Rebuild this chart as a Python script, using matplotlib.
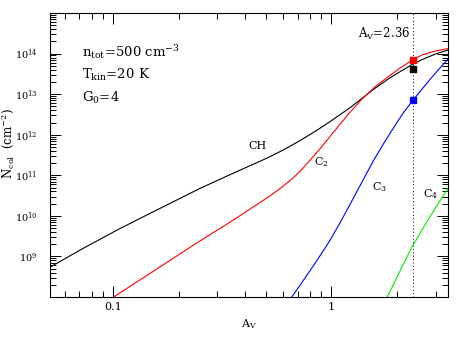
import numpy as np
import matplotlib
matplotlib.use("Agg")
import matplotlib.pyplot as plt
from matplotlib.ticker import LogLocator, NullFormatter, FixedLocator, FixedFormatter

plt.rcParams['font.family'] = ['DejaVu Serif']
plt.rcParams['mathtext.fontset'] = 'dejavuserif'

# CH column density (A_V, log10 N)
ch_av = [0.0513, 0.0729, 0.1036, 0.1473, 0.2496, 0.3548, 0.5047, 0.6012, 0.7172, 0.8555,
         0.9843, 1.216, 1.554, 1.854, 2.060, 2.331, 2.599, 2.981, 3.42]
ch_log = [8.735, 9.201, 9.644, 10.061, 10.676, 11.052, 11.420, 11.624, 11.855, 12.106,
          12.322, 12.666, 13.113, 13.405, 13.553, 13.725, 13.850, 13.985, 14.088]
# C2
c2_av = [0.1, 0.1473, 0.2496, 0.3548, 0.5047, 0.5807, 0.668, 0.7303, 0.7968, 0.8858, 0.9843,
         1.094, 1.216, 1.351, 1.582, 1.854, 2.060, 2.331, 2.599, 2.981, 3.42]
c2_log = [7.995, 8.582, 9.381, 9.897, 10.437, 10.668, 10.936, 11.140, 11.371, 11.654, 11.956,
          12.258, 12.553, 12.828, 13.182, 13.464, 13.641, 13.833, 13.966, 14.061, 14.123]
# C3
c3_av = [0.657, 0.7323, 0.8253, 0.9018, 0.9843, 1.094, 1.216, 1.375, 1.554, 1.759, 1.990,
         2.149, 2.331, 2.545, 2.828, 3.109, 3.42]
c3_log = [7.995, 8.359, 8.767, 9.079, 9.398, 9.828, 10.283, 10.818, 11.354, 11.838, 12.292,
          12.563, 12.808, 13.066, 13.361, 13.619, 13.865]
# C4
c4_av = [1.80, 2.060, 2.331, 2.828, 3.42]
c4_log = [7.995, 8.639, 9.221, 9.983, 10.683]

# markers at A_V = 2.36
mark_av = 2.36
mark_log = [13.845, 13.624, 12.845]
mark_col = ['red', 'black', 'blue']

fig = plt.figure(figsize=(4.58, 3.38), dpi=100)
ax = fig.add_axes([0.1092, 0.1213, 0.8690, 0.8402])

lw = 0.8
ax.plot(ch_av, 10**np.array(ch_log), color='black', lw=lw)
ax.plot(c2_av, 10**np.array(c2_log), color='red', lw=lw)
ax.plot(c3_av, 10**np.array(c3_log), color='blue', lw=lw)
ax.plot(c4_av, 10**np.array(c4_log), color='#00ee00', lw=lw)
ax.axvline(mark_av, color='black', lw=0.7, ls=(0, (1, 2.5)))
for v, c in zip(mark_log, mark_col):
    ax.plot([mark_av], [10**v], marker='s', color=c, ms=5, mec=c)

ax.set_xscale('log')
ax.set_yscale('log')
ax.set_xlim(0.0513, 3.42)
ax.set_ylim(1e8, 1e15)

ax.xaxis.set_major_locator(FixedLocator([0.1, 1]))
ax.xaxis.set_major_formatter(FixedFormatter(['0.1', '1']))
ax.xaxis.set_minor_locator(LogLocator(base=10, subs=np.arange(2, 10), numticks=20))
ax.xaxis.set_minor_formatter(NullFormatter())
ydec = [1e9, 1e10, 1e11, 1e12, 1e13, 1e14]
ax.yaxis.set_major_locator(FixedLocator(ydec))
ax.yaxis.set_major_formatter(FixedFormatter([r'$10^{%d}$' % k for k in range(9, 15)]))
ax.yaxis.set_minor_locator(LogLocator(base=10, subs=np.arange(2, 10), numticks=20))
ax.yaxis.set_minor_formatter(NullFormatter())

ax.tick_params(which='both', direction='in', top=True, right=True, width=0.7)
ax.tick_params(which='major', length=8)
ax.tick_params(which='minor', length=4)
ax.tick_params(axis='y', which='major', pad=9, labelsize=7)
ax.tick_params(axis='x', which='major', pad=3.5, labelsize=8)
for s in ax.spines.values():
    s.set_linewidth(0.8)

ax.set_xlabel(r'A$_{\rm V}$', fontsize=8, labelpad=4)
fig.text(8.5 / 458, 1 - 143 / 338, r'N$_{\rm col}$  (cm$^{-2}$)', fontsize=8.5,
         rotation=90, ha='center', va='center')

ax.text(0.081, 0.863, r'n$_{\rm tot}$=500 cm$^{-3}$', transform=ax.transAxes, fontsize=9.5, va='center')
ax.text(0.081, 0.782, r'T$_{\rm kin}$=20 K', transform=ax.transAxes, fontsize=9.5, va='center')
ax.text(0.081, 0.700, r'G$_0$=4', transform=ax.transAxes, fontsize=9.5, va='center')

ax.text(0.4604, 10**11.715, 'CH', fontsize=8, ha='center', va='center')
ax.text(0.90, 10**11.334, r'C$_2$', fontsize=8, ha='center', va='center')
ax.text(1.651, 10**10.715, r'C$_3$', fontsize=8, ha='center', va='center')
ax.text(2.858, 10**10.536, r'C$_4$', fontsize=8, ha='center', va='center')
ax.text(2.29, 10**14.49, r'A$_{\rm V}$=2.36', fontsize=8.5, ha='right', va='center')

fig.savefig('out.png', dpi=100)
